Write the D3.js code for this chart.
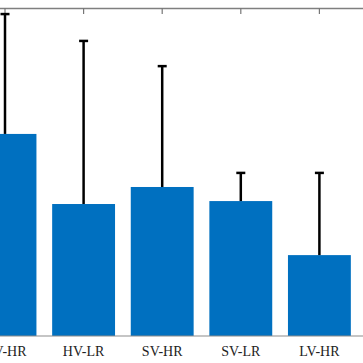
<!DOCTYPE html>
<html>
<head>
<meta charset="utf-8">
<script src="https://cdn.jsdelivr.net/npm/d3@7"></script>
<style>
  html, body { margin: 0; padding: 0; background: #fff; }
  svg { display: block; }
</style>
</head>
<body>
<svg id="chart"></svg>
<script>
let w = 363
let h = 363

// data (units are arbitrary, no y axis is visible)
let groups = ["HV-HR", "HV-LR", "SV-HR", "SV-LR", "LV-HR"]
let means = [61.7, 40.3, 45.5, 41.2, 24.7]
let errs = [36.6, 49.8, 36.9, 8.6, 25.1]

let svg = d3.select("#chart")
  .attr("width", w)
  .attr("height", h)

let yBottom = 336
let yTop = 8

let x = d3.scaleBand()
  .domain(groups)
  .range([-34.3, 358.7])
  .paddingInner(0.2)
  .paddingOuter(0.1)

let y = d3.scaleLinear()
  .domain([0, 100])
  .range([yBottom, yTop + 0.5])

// top frame line with ticks pointing down
svg.append("line")
  .attr("x1", 0).attr("x2", w)
  .attr("y1", yTop + 0.5).attr("y2", yTop + 0.5)
  .attr("stroke", "#7f7f7f")
  .attr("stroke-width", 1.5)

let topAxis = svg.append("g")
  .attr("transform", `translate(0,${yTop})`)
  .call(d3.axisTop(x).tickSize(-6).tickFormat(""))
topAxis.select(".domain").remove()
topAxis.selectAll(".tick line").attr("stroke", "#777").attr("stroke-width", 1.2)

// bottom axis
let bottomAxis = svg.append("g")
  .attr("transform", `translate(0,${yBottom})`)
  .call(d3.axisBottom(x).tickSize(-5).tickPadding(10.5))
bottomAxis.select(".domain").remove()
bottomAxis.selectAll(".tick line").attr("stroke", "#888")
bottomAxis.selectAll("text")
  .attr("font-family", "'Liberation Serif', 'Times New Roman', serif")
  .attr("font-size", 14)
  .attr("fill", "#222")

// bars
svg.selectAll("rect.bar")
  .data(groups)
  .join("rect")
  .attr("class", "bar")
  .attr("x", d => x(d))
  .attr("width", x.bandwidth())
  .attr("y", (d, i) => y(means[i]))
  .attr("height", (d, i) => y(0) - y(means[i]))
  .attr("fill", "#0070c0")

svg.append("line")
  .attr("x1", 0).attr("x2", w)
  .attr("y1", yBottom).attr("y2", yBottom)
  .attr("stroke", "#8c8c8c")
  .attr("stroke-width", 1.2)

// error bars (upper half only)
let eb = svg.selectAll("g.err")
  .data(groups)
  .join("g")
  .attr("class", "err")

eb.append("line")
  .attr("x1", d => x(d) + x.bandwidth() / 2)
  .attr("x2", d => x(d) + x.bandwidth() / 2)
  .attr("y1", (d, i) => y(means[i]))
  .attr("y2", (d, i) => y(means[i] + errs[i]))
  .attr("stroke", "#000")
  .attr("stroke-width", 2.5)

eb.append("line")
  .attr("x1", d => x(d) + x.bandwidth() / 2 - 4.5)
  .attr("x2", d => x(d) + x.bandwidth() / 2 + 4.5)
  .attr("y1", (d, i) => y(means[i] + errs[i]))
  .attr("y2", (d, i) => y(means[i] + errs[i]))
  .attr("stroke", "#000")
  .attr("stroke-width", 2.5)
</script>
</body>
</html>
